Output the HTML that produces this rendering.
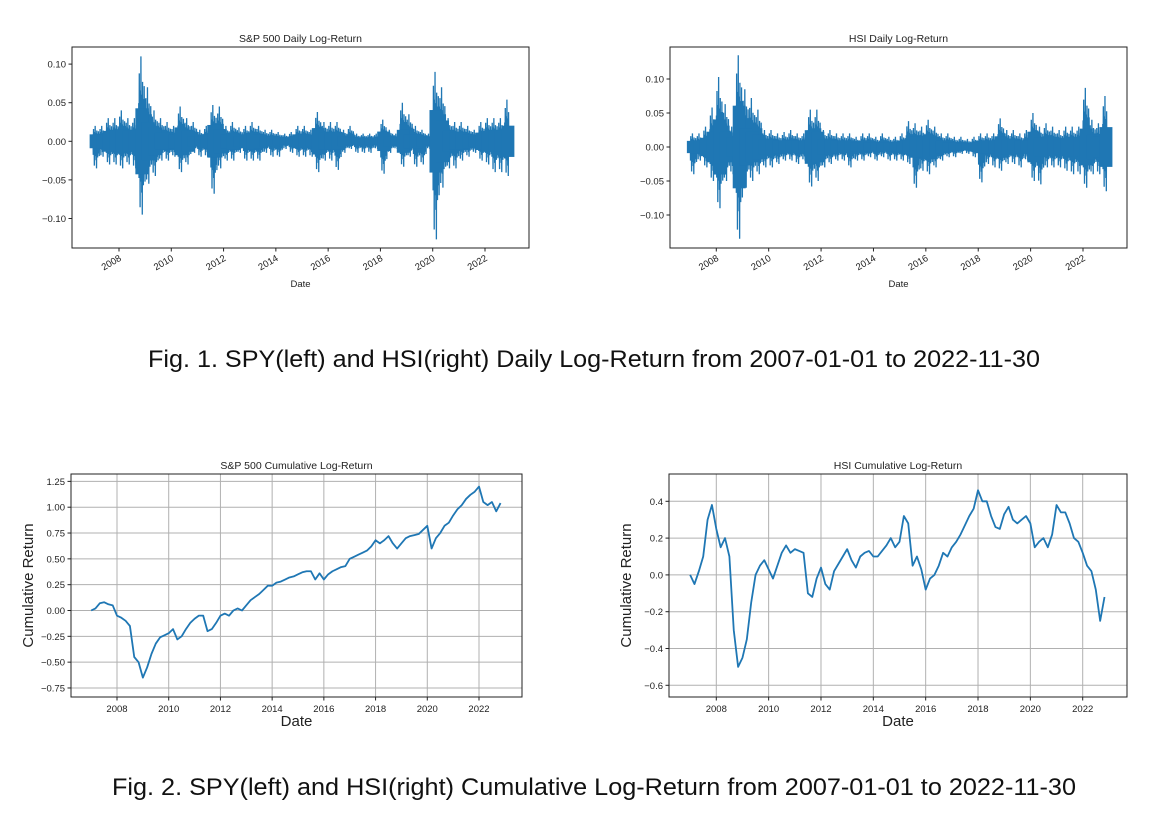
<!DOCTYPE html>
<html><head><meta charset="utf-8"><style>
html,body{margin:0;padding:0;background:#fff;}
svg{display:block;font-family:"Liberation Sans","DejaVu Sans",sans-serif;}
</style></head><body>
<svg id="fig" width="1172" height="818" viewBox="0 0 1172 818">
<rect width="1172" height="818" fill="#fff"/>
<text x="594" y="367" font-size="24.5" text-anchor="middle" textLength="892" lengthAdjust="spacingAndGlyphs" fill="#111">Fig. 1.  SPY(left) and HSI(right) Daily Log-Return from 2007-01-01 to 2022-11-30</text>
<text x="594" y="795" font-size="24.5" text-anchor="middle" textLength="964" lengthAdjust="spacingAndGlyphs" fill="#111">Fig. 2.  SPY(left) and HSI(right) Cumulative Log-Return from 2007-01-01 to 2022-11-30</text>
</svg>
<script>
// ---- data ----
const years = [2008,2010,2012,2014,2016,2018,2020,2022];
const spDailyHi = [.02,.02,.03,.03, .04,.03,.03,.11, .07,.04,.03,.025, .02,.045,.03,.025, .015,.02,.047,.045, .02,.025,.018,.02, .025,.02,.015,.015, .012,.01,.012,.02, .02,.015,.038,.025, .025,.025,.015,.02, .01,.01,.01,.01, .028,.015,.01,.05, .035,.02,.015,.01, .09,.07,.03,.025, .025,.02,.015,.025, .03,.03,.03,.054];
const spDailyLo = [-.035,-.02,-.03,-.03, -.035,-.03,-.035,-.095, -.055,-.045,-.025,-.025, -.02,-.04,-.03,-.015, -.02,-.02,-.068,-.035, -.025,-.025,-.015,-.025, -.025,-.025,-.015,-.02, -.02,-.01,-.015,-.02, -.02,-.02,-.04,-.025, -.025,-.037,-.015,-.01, -.015,-.015,-.015,-.01, -.042,-.015,-.01,-.033, -.02,-.033,-.03,-.01, -.127,-.06,-.035,-.035, -.025,-.02,-.015,-.025, -.03,-.04,-.04,-.045];
const hsiDailyHi = [.02,.02,.03,.058, .103,.063,.03,.135, .085,.072,.055,.025, .025,.02,.022,.025, .02,.02,.055,.055, .025,.025,.02,.02, .02,.015,.02,.02, .015,.02,.015,.015, .02,.038,.035,.03, .04,.03,.02,.02, .015,.015,.012,.015, .02,.02,.02,.042, .025,.025,.02,.025, .05,.03,.035,.03, .025,.03,.03,.03, .087,.04,.035,.075];
const hsiDailyLo = [-.04,-.02,-.03,-.05, -.09,-.05,-.04,-.135, -.06,-.05,-.04,-.03, -.03,-.025,-.02,-.02, -.025,-.02,-.058,-.05, -.03,-.025,-.02,-.02, -.03,-.02,-.02,-.015, -.02,-.015,-.02,-.02, -.02,-.025,-.06,-.035, -.04,-.03,-.02,-.015, -.015,-.01,-.01,-.015, -.052,-.025,-.03,-.035, -.025,-.025,-.03,-.02, -.05,-.055,-.03,-.03, -.03,-.035,-.04,-.04, -.06,-.04,-.04,-.065];
const spCum = [0,.02,.07,.08,.06,.05, -.05,-.07,-.1,-.15,-.45,-.5, -.65,-.55,-.42,-.32,-.26,-.24, -.22,-.18,-.28,-.25,-.18,-.12, -.08,-.05,-.05,-.2,-.18,-.12, -.05,-.03,-.05,0,.02,0, .05,.1,.13,.16,.2,.24, .24,.27,.28,.3,.32,.33, .35,.37,.38,.38,.3,.36, .3,.35,.38,.4,.42,.43, .5,.52,.54,.56,.58,.62, .68,.65,.68,.72,.65,.6, .65,.7,.72,.73,.74,.78, .82,.6,.7,.75,.82,.85, .92,.98,1.02,1.08,1.12,1.15, 1.2,1.05,1.02,1.05,.96,1.04];
const hsiCum = [0,-.05,.02,.1,.3,.38, .25,.15,.2,.1,-.3,-.5, -.45,-.35,-.15,0,.05,.08, .03,-.02,.05,.12,.16,.12, .14,.13,.12,-.1,-.12,-.02, .04,-.05,-.08,.02,.06,.1, .14,.08,.04,.1,.12,.13, .1,.1,.13,.16,.2,.15, .18,.32,.28,.05,.1,.03, -.08,-.02,0,.05,.12,.1, .15,.18,.22,.27,.32,.36, .46,.4,.4,.32,.26,.25, .33,.37,.3,.28,.3,.32, .28,.15,.18,.2,.15,.22, .38,.34,.34,.28,.2,.18, .12,.05,.02,-.08,-.25,-.12];
const dailyTicksSP = [-0.10,-0.05,0.00,0.05,0.10];
const dailyTicksHSI = [-0.10,-0.05,0.00,0.05,0.10];
const cumTicksSP = [-0.75,-0.5,-0.25,0,0.25,0.5,0.75,1.0,1.25];
const cumTicksHSI = [-0.6,-0.4,-0.2,0,0.2,0.4];

const NS='http://www.w3.org/2000/svg';
const svg=document.getElementById('fig');
function el(tag,attrs,parent){const e=document.createElementNS(NS,tag);for(const k in attrs)e.setAttribute(k,attrs[k]);(parent||svg).appendChild(e);return e;}
const BLUE='#1f77b4';

function chart(cfg){
  const g=el('g',{});
  
  
  const xs=y=>cfg.xA+(y-2008)*(cfg.xB-cfg.xA)/14;
  const ys=v=>cfg.y0-v*cfg.k;
  if(cfg.grid){
    years.forEach(y=>{const l=el('line',{x1:xs(y),x2:xs(y),y1:cfg.top,y2:cfg.bot,stroke:'#b0b0b0','stroke-width':1},g);});
    cfg.ticks.forEach(t=>{const l=el('line',{x1:cfg.left,x2:cfg.right,y1:ys(t),y2:ys(t),stroke:'#b0b0b0','stroke-width':1},g);});
  }
  if(cfg.hi){
    const pat=[0.45,-0.5,0.8,-0.35,0.6,-0.9,0.4,-0.55,1,-0.45,0.55,-0.7,0.35,-1,0.7,-0.4,0.5,-0.6,0.3,-0.45,0.65,-0.3,0.5,-0.55];
    let d='';
    cfg.hi.forEach((h,i)=>{
      const t0=2007+i/4;
      const n=pat.length;
      for(let j=0;j<n;j++){
        const t=t0+(j+0.5)/(4*n);
        if(t>2022.92)break;
        const f=pat[j];
        const v=f>0?h*f:-cfg.lo[i]*f;
        d+=(d?'L':'M')+xs(t).toFixed(2)+','+ys(v).toFixed(2);
      }
    });
    const p=el('path',{d:d,fill:'none',stroke:BLUE,'stroke-width':1.3},g);
    
    cfg.hi.forEach((h,i)=>{
      const x=xs(2007+(i+0.5)/4);
      if(x>xs(2022.92))return;
      const lo=cfg.lo[i];
      const m=Math.min(h,-lo);
      const r=el('rect',{x:x-6.5,width:13,y:ys(m*0.45),height:ys(-m*0.45)-ys(m*0.45),fill:BLUE},g);
      
    });
  } else {
    const d=cfg.cum.map((v,i)=>(i?'L':'M')+xs(2007+i/6).toFixed(2)+','+ys(v).toFixed(2)).join('');
    const p=el('path',{d:d,fill:'none',stroke:BLUE,'stroke-width':1.8,'stroke-linejoin':'round'},g);
    
  }
  const fr=el('rect',{x:cfg.left,y:cfg.top,width:cfg.right-cfg.left,height:cfg.bot-cfg.top,fill:'none',stroke:'#222','stroke-width':1},g);
  
  cfg.ticks.forEach(t=>{
    el('line',{x1:cfg.left-3.5,x2:cfg.left,y1:ys(t),y2:ys(t),stroke:'#222'},g);
    const s=(t<0?'\u2212':'')+Math.abs(t).toFixed(cfg.dec);
    const tx=el('text',{x:cfg.left-6,y:ys(t)+3.5,'font-size':9.5,'text-anchor':'end',fill:'#222'},g);
    tx.textContent=s;
    
  });
  years.forEach(y=>{
    const x=xs(y);
    el('line',{x1:x,x2:x,y1:cfg.bot,y2:cfg.bot+3.5,stroke:'#222'},g);
    let tx;
    if(cfg.rot){tx=el('text',{x:x+3,y:cfg.bot+12,'font-size':9.5,'text-anchor':'end',transform:'rotate(-30 '+(x+3)+' '+(cfg.bot+12)+')',fill:'#222'},g);}
    else{tx=el('text',{x:x,y:cfg.bot+15,'font-size':9.5,'text-anchor':'middle',fill:'#222'},g);}
    tx.textContent=y;
    
  });
  const title=el('text',{x:(cfg.left+cfg.right)/2,y:cfg.top-5,'font-size':10.5,'text-anchor':'middle',fill:'#222'},g);
  title.textContent=cfg.title;
  const xl=el('text',{x:(cfg.left+cfg.right)/2,y:cfg.rot?cfg.bot+39:cfg.bot+29,'font-size':cfg.rot?9.5:15,'text-anchor':'middle',fill:'#222'},g);
  xl.textContent='Date';
  if(cfg.ylab){
    const cx=cfg.left-38,cy=(cfg.top+cfg.bot)/2;
    const yl=el('text',{x:cx,y:cy,'font-size':15,'text-anchor':'middle',transform:'rotate(-90 '+cx+' '+cy+')',fill:'#222'},g);
    yl.textContent='Cumulative Return';
  }
}
chart({name:'sp500-daily-chart',title:'S&P 500 Daily Log-Return',left:72,right:529,top:47,bot:248,xA:119,xB:485,y0:141.3,k:772,ticks:dailyTicksSP,dec:2,rot:true,hi:spDailyHi,lo:spDailyLo});
chart({name:'hsi-daily-chart',title:'HSI Daily Log-Return',left:670,right:1127,top:47,bot:248,xA:716.3,xB:1083,y0:147,k:680,ticks:dailyTicksHSI,dec:2,rot:true,hi:hsiDailyHi,lo:hsiDailyLo});
chart({name:'sp500-cumulative-chart',title:'S&P 500 Cumulative Log-Return',left:71,right:522,top:474,bot:697,xA:117,xB:479,y0:610.5,k:103.3,ticks:cumTicksSP,dec:2,rot:false,grid:true,ylab:true,cum:spCum});
chart({name:'hsi-cumulative-chart',title:'HSI Cumulative Log-Return',left:669,right:1127,top:474,bot:697,xA:716.3,xB:1082.7,y0:574.9,k:184,ticks:cumTicksHSI,dec:1,rot:false,grid:true,ylab:true,cum:hsiCum});
</script>
</body></html>
